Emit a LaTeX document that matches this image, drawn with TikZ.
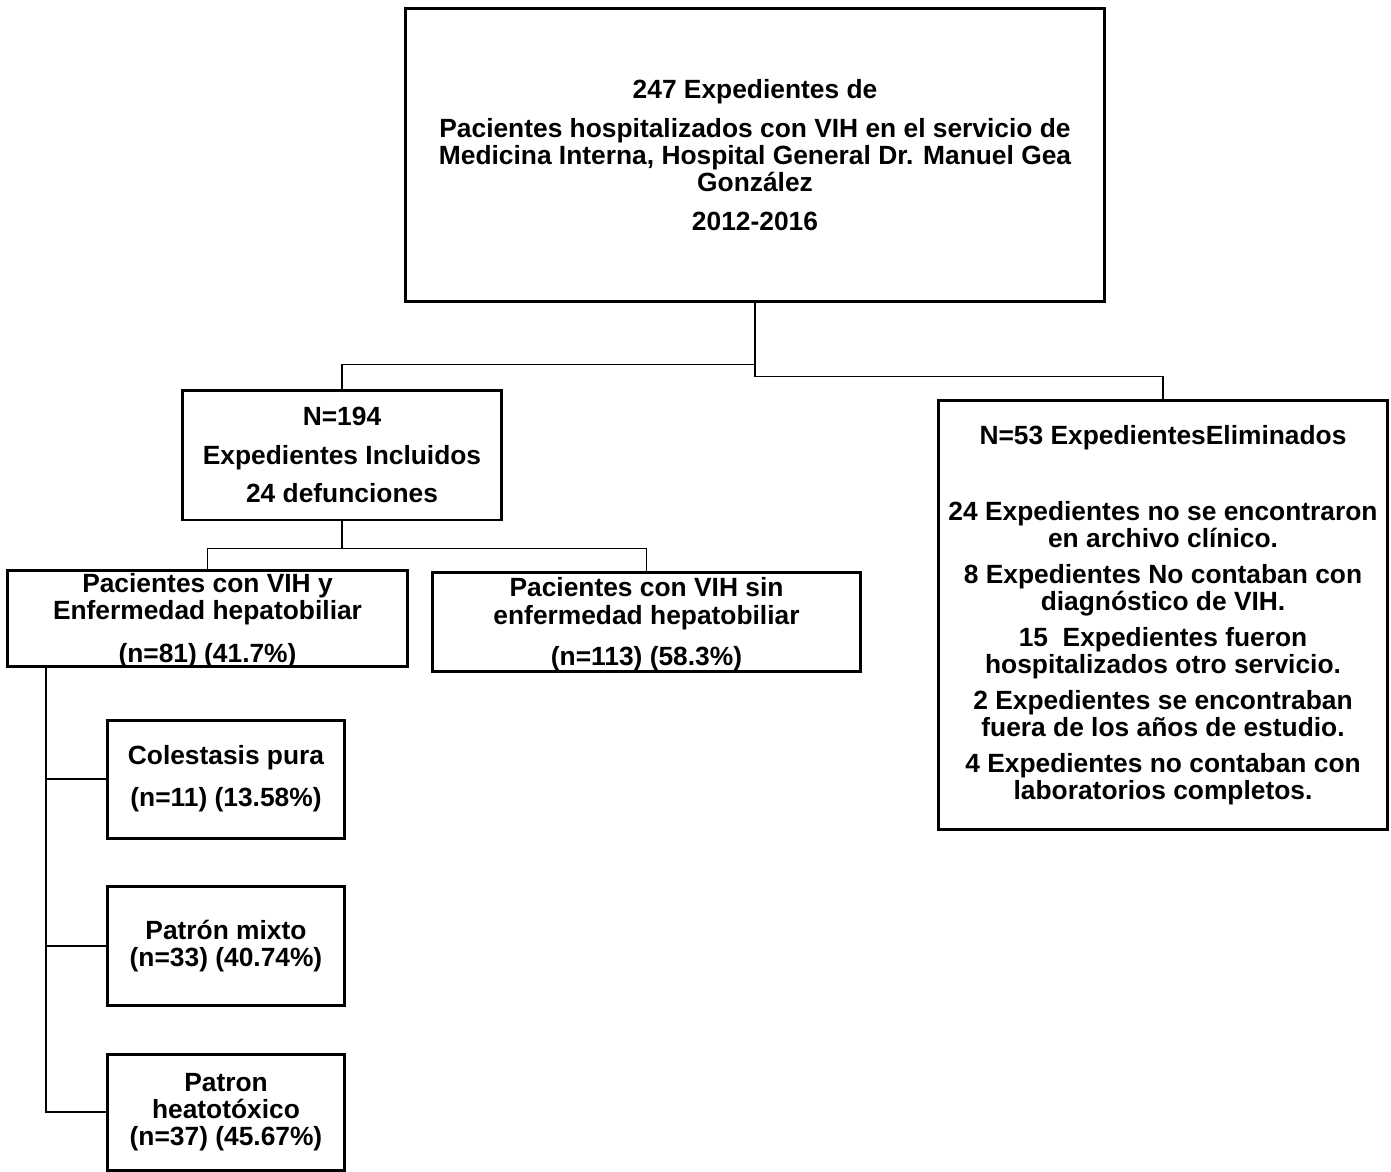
\documentclass[tikz,border=0pt]{standalone}
\usepackage{fontspec}
\setmainfont{Liberation Sans}
\usetikzlibrary{positioning,calc}
\newcommand\boxfont{\bfseries\fontsize{15}{15.4}\selectfont\lineskiplimit=-20pt\relax}
\tikzset{block/.style={draw,line width=1.7pt,align=center,inner sep=1pt,font=\boxfont},
         line/.style={line width=1.1pt}
}
\begin{document}
\begin{tikzpicture}[x=0.02cm,y=-0.02cm]
\useasboundingbox (0,0) rectangle (1391,1171);

\node[block,minimum width=14cm,minimum height=5.88cm] (top) at (755,155)
  {247 Expedientes de\\[7pt]
   Pacientes hospitalizados con VIH en el servicio de\\
   Medicina Interna, Hospital General Dr. Manuel Gea\\
   González\\[7pt]
   2012-2016};
\node[block,minimum width=6.4cm,minimum height=2.6cm] (incl) at (342,455)
  {N=194\\[6.3pt] Expedientes Incluidos\\[6.3pt] 24 defunciones};
\node[block,minimum width=9cm,minimum height=8.6cm] (elim) at (1163,615)
  {N=53 ExpedientesEliminados\\[28pt]
   24 Expedientes no se encontraron\\ en archivo clínico.\\[5pt]
   8 Expedientes No contaban con\\ diagnóstico de VIH.\\[5pt]
   15\ \ Expedientes fueron\\ hospitalizados otro servicio.\\[5pt]
   2 Expedientes se encontraban\\ fuera de los años de estudio.\\[5pt]
   4 Expedientes no contaban con\\ laboratorios completos.};
\node[block,minimum width=8.02cm,minimum height=1.92cm,text depth=-1.5pt] (hep) at (207.5,618)
  {Pacientes con VIH y\\ Enfermedad hepatobiliar\\[9pt] (n=81) (41.7\%)};
\node[block,minimum width=8.58cm,minimum height=1.98cm,text depth=-1.5pt] (sin) at (646.5,621.5)
  {Pacientes con VIH sin\\ enfermedad hepatobiliar\\[8pt] (n=113) (58.3\%)};
\node[block,minimum width=4.74cm,minimum height=2.36cm] (cole) at (226,779)
  {Colestasis pura\\[8.5pt] (n=11) (13.58\%)};
\node[block,minimum width=4.74cm,minimum height=2.38cm] (mix) at (226,946)
  {Patrón mixto\\ (n=33) (40.74\%)};
\node[block,minimum width=4.74cm,minimum height=2.32cm] (heat) at (226,1112)
  {Patron\\ heatotóxico\\ (n=37) (45.67\%)};

\draw[line] (top.south) -- ++(0,73) -| (elim.north);
\draw[line] (top.south) ++(0,61) -| (incl.north);
\draw[line] (incl.south) -- ++(0,27) -| (hep.north);
\draw[line] (incl.south) ++(0,27) -| (sin.north);
\coordinate (spine) at ($(hep.south west)+(40,0)$);
\draw[line] (spine) |- (heat.west);
\draw[line] (spine |- cole.west) -- (cole.west);
\draw[line] (spine |- mix.west) -- (mix.west);

\end{tikzpicture}
\end{document}
